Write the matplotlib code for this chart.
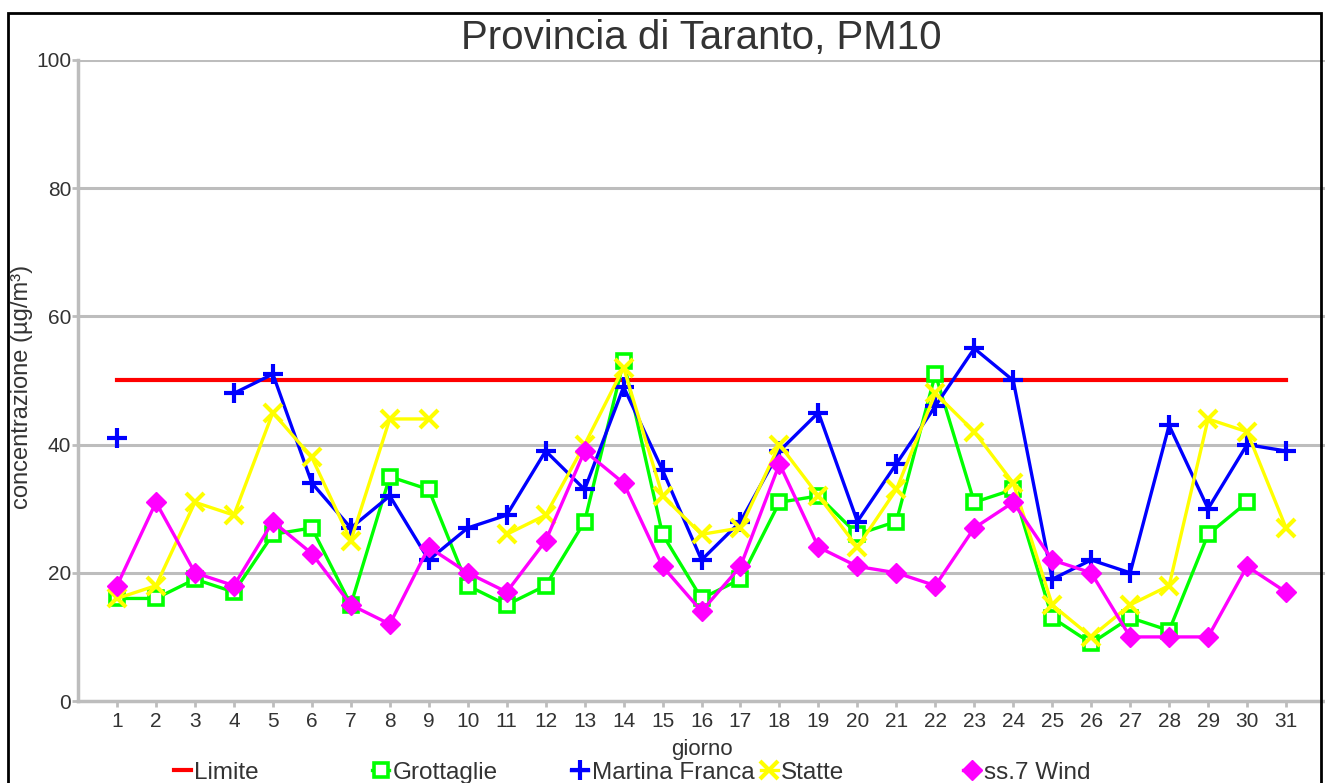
import numpy as np
from matplotlib import pyplot as plt
from matplotlib.patches import Rectangle

plt.rcParams.update({
    "font.family": "Liberation Sans",
    "text.color": "#333333",
    "axes.labelcolor": "#333333",
    "xtick.color": "#333333",
    "ytick.color": "#333333"})

nan = np.nan

# Days of the month
giorni = np.arange(1, 32)

# Daily PM10 values (ug/m3)
limite = [50] * 31
grottaglie = [16, 16, 19, 17, 26, 27, 15, 35, 33, 18, 15, 18, 28, 53, 26, 16,
              19, 31, 32, 26, 28, 51, 31, 33, 13, 9, 13, 11, 26, 31, nan]
martina_franca = [41, nan, nan, 48, 51, 34, 27, 32, 22, 27, 29, 39, 33, 49, 36, 22,
                  28, 39, 45, 28, 37, 46, 55, 50, 19, 22, 20, 43, 30, 40, 39]
statte = [16, 18, 31, 29, 45, 38, 25, 44, 44, nan, 26, 29, 40, 52, 32, 26,
          27, 40, 32, 24, 33, 48, 42, 34, 15, 10, 15, 18, 44, 42, 27]
ss7_wind = [18, 31, 20, 18, 28, 23, 15, 12, 24, 20, 17, 25, 39, 34, 21, 14,
            21, 37, 24, 21, 20, 18, 27, 31, 22, 20, 10, 10, 10, 21, 17]

fig = plt.figure(figsize=(13.25, 7.83), dpi=100)
ax = fig.add_axes([0.0589, 0.1047, 0.9411, 0.8187])

grid_col = "#bdbdbd"
for v in range(20, 101, 20):
    ax.axhline(v, color=grid_col, lw=2.2, zorder=1)

l_lim, = ax.plot(giorni, limite, color="#ff0000", lw=3, zorder=3, label="Limite")
l_gro, = ax.plot(giorni, grottaglie, color="#00ff00", lw=2.4, marker="s", ms=10,
                 mfc="white", mec="#00ff00", mew=2.6, zorder=4, label="Grottaglie")
l_mar, = ax.plot(giorni, martina_franca, color="#0000ff", lw=2.4, marker="+", ms=14,
                 mew=3, zorder=5, label="Martina Franca")
l_sta, = ax.plot(giorni, statte, color="#ffff00", lw=2.4, marker="x", ms=13,
                 mew=3, zorder=6, label="Statte")
l_ss7, = ax.plot(giorni, ss7_wind, color="#ff00ff", lw=2.4, marker="D", ms=10,
                 zorder=7, label="ss.7 Wind")

ax.set_xlim(0, 32)
ax.set_ylim(0, 100)
ax.set_xticks(giorni)
ax.set_yticks(range(0, 101, 20))
ax.tick_params(axis="both", labelsize=15, color=grid_col, width=2, length=4)
ax.tick_params(axis="x", pad=4)
ax.tick_params(axis="y", pad=1)
for s in ["top", "right"]:
    ax.spines[s].set_visible(False)
for s in ["left", "bottom"]:
    ax.spines[s].set_color(grid_col)
    ax.spines[s].set_linewidth(2.5)
    ax.spines[s].set_zorder(2)

ax.set_title("Provincia di Taranto, PM10", fontsize=29, pad=8)
ax.set_xlabel("giorno", fontsize=16, labelpad=6)
ax.set_ylabel("concentrazione (µg/m³)", fontsize=17)
ax.yaxis.set_label_coords(-0.036, 0.49)

# legend entries spaced like the original, one small legend each
handles = [l_lim, l_gro, l_mar, l_sta, l_ss7]
xs = [0.131, 0.281, 0.431, 0.574, 0.727]
for h, x in zip(handles, xs):
    lg = fig.legend(handles=[h], loc="center left", bbox_to_anchor=(x, 0.013),
                    frameon=False, fontsize=17.5, handlelength=0.7,
                    handletextpad=0.15, borderaxespad=0, borderpad=0)

# black frame around the figure
fig.add_artist(Rectangle((0.006, -0.2), 0.991, 1.1834, transform=fig.transFigure,
                         fill=False, ec="black", lw=2, clip_on=False))

plt.savefig("out.png", dpi=100)
print("Program executed")
